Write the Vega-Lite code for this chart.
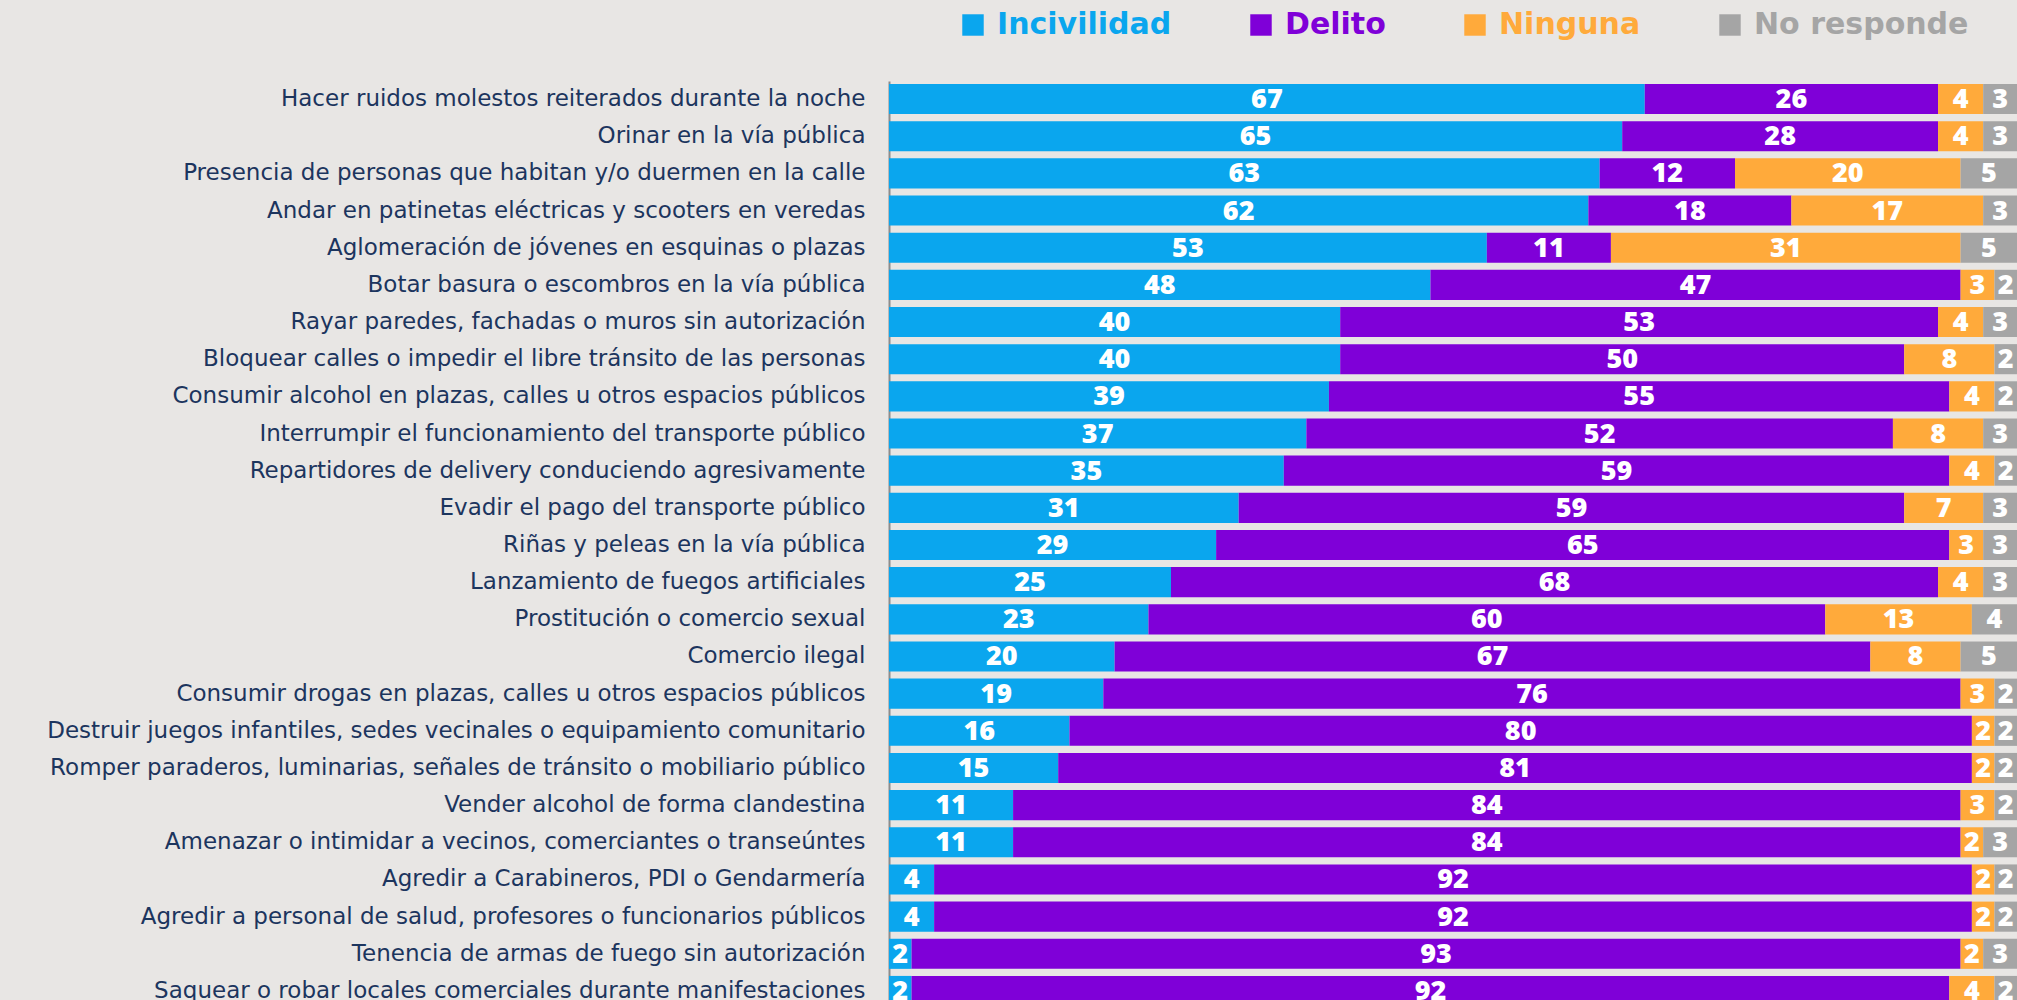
{
  "$schema": "https://vega.github.io/schema/vega-lite/v6.json",
  "autosize": "none",
  "width": 1128,
  "height": 928,
  "padding": {"left": 889, "top": 81, "right": 0, "bottom": 0},
  "background": "#E8E6E4",
  "config": {"view": {"stroke": null}, "font": "Open Sans"},
  "data": {"values": [
    {"conducta": "Hacer ruidos molestos reiterados durante la noche", "Incivilidad": 67, "Delito": 26, "Ninguna": 4, "No responde": 3},
    {"conducta": "Orinar en la vía pública", "Incivilidad": 65, "Delito": 28, "Ninguna": 4, "No responde": 3},
    {"conducta": "Presencia de personas que habitan y/o duermen en la calle", "Incivilidad": 63, "Delito": 12, "Ninguna": 20, "No responde": 5},
    {"conducta": "Andar en patinetas eléctricas y scooters en veredas", "Incivilidad": 62, "Delito": 18, "Ninguna": 17, "No responde": 3},
    {"conducta": "Aglomeración de jóvenes en esquinas o plazas", "Incivilidad": 53, "Delito": 11, "Ninguna": 31, "No responde": 5},
    {"conducta": "Botar basura o escombros en la vía pública", "Incivilidad": 48, "Delito": 47, "Ninguna": 3, "No responde": 2},
    {"conducta": "Rayar paredes, fachadas o muros sin autorización", "Incivilidad": 40, "Delito": 53, "Ninguna": 4, "No responde": 3},
    {"conducta": "Bloquear calles o impedir el libre tránsito de las personas", "Incivilidad": 40, "Delito": 50, "Ninguna": 8, "No responde": 2},
    {"conducta": "Consumir alcohol en plazas, calles u otros espacios públicos", "Incivilidad": 39, "Delito": 55, "Ninguna": 4, "No responde": 2},
    {"conducta": "Interrumpir el funcionamiento del transporte público", "Incivilidad": 37, "Delito": 52, "Ninguna": 8, "No responde": 3},
    {"conducta": "Repartidores de delivery conduciendo agresivamente", "Incivilidad": 35, "Delito": 59, "Ninguna": 4, "No responde": 2},
    {"conducta": "Evadir el pago del transporte público", "Incivilidad": 31, "Delito": 59, "Ninguna": 7, "No responde": 3},
    {"conducta": "Riñas y peleas en la vía pública", "Incivilidad": 29, "Delito": 65, "Ninguna": 3, "No responde": 3},
    {"conducta": "Lanzamiento de fuegos artificiales\u00a0", "Incivilidad": 25, "Delito": 68, "Ninguna": 4, "No responde": 3},
    {"conducta": "Prostitución o comercio sexual\u00a0", "Incivilidad": 23, "Delito": 60, "Ninguna": 13, "No responde": 4},
    {"conducta": "Comercio ilegal\u00a0", "Incivilidad": 20, "Delito": 67, "Ninguna": 8, "No responde": 5},
    {"conducta": "Consumir drogas en plazas, calles u otros espacios públicos", "Incivilidad": 19, "Delito": 76, "Ninguna": 3, "No responde": 2},
    {"conducta": "Destruir juegos infantiles, sedes vecinales o equipamiento comunitario", "Incivilidad": 16, "Delito": 80, "Ninguna": 2, "No responde": 2},
    {"conducta": "Romper paraderos, luminarias, señales de tránsito o mobiliario público", "Incivilidad": 15, "Delito": 81, "Ninguna": 2, "No responde": 2},
    {"conducta": "Vender alcohol de forma clandestina", "Incivilidad": 11, "Delito": 84, "Ninguna": 3, "No responde": 2},
    {"conducta": "Amenazar o intimidar a vecinos, comerciantes o transeúntes", "Incivilidad": 11, "Delito": 84, "Ninguna": 2, "No responde": 3},
    {"conducta": "Agredir a Carabineros, PDI o Gendarmería", "Incivilidad": 4, "Delito": 92, "Ninguna": 2, "No responde": 2},
    {"conducta": "Agredir a personal de salud, profesores o funcionarios públicos", "Incivilidad": 4, "Delito": 92, "Ninguna": 2, "No responde": 2},
    {"conducta": "Tenencia de armas de fuego sin autorización", "Incivilidad": 2, "Delito": 93, "Ninguna": 2, "No responde": 3},
    {"conducta": "Saquear o robar locales comerciales durante manifestaciones", "Incivilidad": 2, "Delito": 92, "Ninguna": 4, "No responde": 2}
  ]},
  "transform": [
    {"fold": ["Incivilidad", "Delito", "Ninguna", "No responde"], "as": ["respuesta", "pct"]},
    {"calculate": "indexof(['Incivilidad','Delito','Ninguna','No responde'], datum.respuesta)", "as": "orden"},
    {"stack": "pct", "groupby": ["conducta"], "sort": [{"field": "orden", "order": "ascending"}], "as": ["v0", "v1"]},
    {"calculate": "(datum.v0 + datum.v1) / 2", "as": "mid"}
  ],
  "encoding": {
    "y": {
      "field": "conducta", "type": "nominal", "sort": null, "title": null,
      "scale": {"paddingInner": 0.19, "paddingOuter": 0.08},
      "axis": {
        "ticks": false, "labelPadding": 24, "labelFontSize": 23, "labelColor": "#1C355E",
        "labelFont": "DejaVu Sans", "labelLimit": 1000, "domainColor": "#8C8C8C", "domainWidth": 2,
        "labelFontWeight": "normal"
      }
    }
  },
  "layer": [
    {
      "mark": {"type": "bar", "stroke": null},
      "encoding": {
        "x": {"field": "v0", "type": "quantitative", "scale": {"domain": [0, 100], "nice": false}, "axis": null},
        "x2": {"field": "v1"},
        "color": {
          "field": "respuesta", "type": "nominal",
          "sort": ["Incivilidad", "Delito", "Ninguna", "No responde"],
          "scale": {"domain": ["Incivilidad", "Delito", "Ninguna", "No responde"], "range": ["#0AA6EE", "#7F00D8", "#FFAA3B", "#A5A5A5"]},
          "legend": {
            "title": null, "orient": "none", "direction": "horizontal",
            "legendX": 69, "legendY": -71,
            "symbolType": "square", "symbolSize": 460, "symbolStrokeWidth": 0,
            "labelFontSize": 30, "labelFontWeight": "bold", "labelFont": "DejaVu Sans",
            "labelLimit": 500, "labelOffset": 9, "columnPadding": 74,
            "labelColor": {"expr": "scale('color', datum.value)"}
          }
        }
      }
    },
    {
      "mark": {"type": "text", "color": "white", "fontSize": 27, "fontWeight": 800, "font": "Open Sans", "baseline": "middle", "dy": 1},
      "encoding": {
        "x": {"field": "mid", "type": "quantitative"},
        "text": {"field": "pct", "type": "quantitative"}
      }
    }
  ]
}
